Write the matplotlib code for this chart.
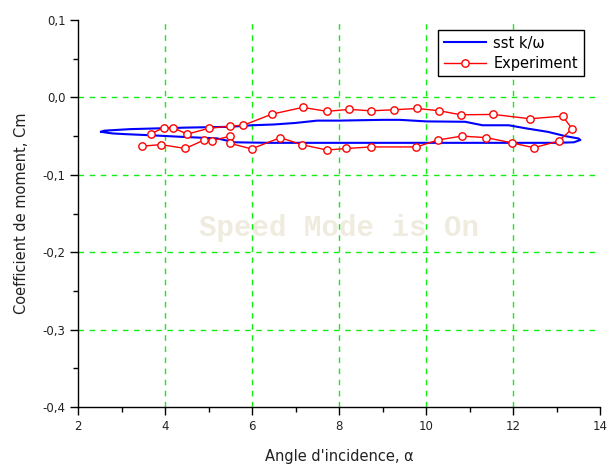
import matplotlib
matplotlib.use("Agg")
import matplotlib.pyplot as plt
from matplotlib.ticker import FixedLocator, FixedFormatter, MultipleLocator

# ---- data ----
sst_x = [2.53, 2.6, 3.2, 4.5, 5.5, 6.0, 6.5, 7.0, 7.5, 8.0, 9.0, 9.4, 10.0, 10.9, 11.3, 11.9,
         12.3, 12.8, 13.2, 13.5, 13.55, 13.4, 13.0, 12.0, 10.0, 8.0, 6.4, 5.6, 5.2, 4.4,
         3.7, 3.1, 2.8, 2.53]
sst_y = [-0.0445, -0.043, -0.041, -0.039, -0.038, -0.036, -0.035, -0.033, -0.030, -0.030,
         -0.029, -0.029, -0.031, -0.0315, -0.036, -0.036, -0.040, -0.0445, -0.050, -0.053,
         -0.055, -0.058, -0.0587, -0.0587, -0.0587, -0.0587, -0.0587, -0.058, -0.053, -0.051,
         -0.049, -0.0475, -0.0466, -0.0445]

exp_x = [3.47, 3.91, 4.47, 4.90, 5.08, 5.50, 5.50, 5.99, 6.65, 7.14, 7.72, 8.17, 8.74, 9.78,
         10.28, 10.82, 11.39, 11.97, 12.48, 13.05, 13.36,
         13.14, 12.39, 11.55, 10.80, 10.31, 9.80, 9.26, 8.73, 8.24, 7.72, 7.17, 6.46, 5.80,
         5.50, 5.00, 4.51, 4.18, 3.97, 3.68]
exp_y = [-0.063, -0.061, -0.066, -0.055, -0.056, -0.050, -0.0595, -0.0665, -0.052, -0.061,
         -0.068, -0.066, -0.064, -0.064, -0.055, -0.050, -0.052, -0.0587, -0.065, -0.0565,
         -0.0406,
         -0.0242, -0.0276, -0.022, -0.0225, -0.0173, -0.0143, -0.016, -0.0173, -0.0155,
         -0.018, -0.0129, -0.0216, -0.036, -0.037, -0.040, -0.0475, -0.039, -0.039, -0.047]

x_ticks = [2, 4, 6, 8, 10, 12, 14]
x_ticklabels = ["2", "4", "6", "8", "10", "12", "14"]
y_ticks = [0.1, 0.0, -0.1, -0.2, -0.3, -0.4]
y_ticklabels = ["0,1", "0,0", "-0,1", "-0,2", "-0,3", "-0,4"]

plt.rcParams['font.family'] = ['DejaVu Sans']

fig = plt.figure(figsize=(6.08, 4.68), dpi=100)
ax = fig.add_axes([78/608, 1-407/468, (600-78)/608, (407-20)/468])

ax.plot(sst_x, sst_y, color='#0000ff', lw=1.5, label='sst k/\u03c9', zorder=3)
ax.plot(exp_x, exp_y, color='#ff0000', lw=1.0, marker='o', markersize=5.3,
        markerfacecolor='white', markeredgecolor='#ff0000', markeredgewidth=1.0,
        label='Experiment', zorder=4)

ax.set_xlim(2, 14)
ax.set_ylim(-0.4, 0.1)
ax.xaxis.set_major_locator(FixedLocator(x_ticks))
ax.xaxis.set_major_formatter(FixedFormatter(x_ticklabels))
ax.yaxis.set_major_locator(FixedLocator(y_ticks))
ax.yaxis.set_major_formatter(FixedFormatter(y_ticklabels))
ax.xaxis.set_minor_locator(MultipleLocator(1))
ax.yaxis.set_minor_locator(MultipleLocator(0.05))
ax.tick_params(which='major', direction='out', length=6, width=1, labelsize=8.5, pad=3,
               labelcolor='#222222')
ax.tick_params(which='minor', direction='out', length=3.5, width=1)

for s in ['top', 'right']:
    ax.spines[s].set_visible(False)
for s in ['left', 'bottom']:
    ax.spines[s].set_linewidth(1.0)

# grid at interior ticks only
for xv in x_ticks[1:-1]:
    ax.axvline(xv, color='#11ee11', lw=1.0, ls=(0, (4, 4)), zorder=1)
for yv in y_ticks[1:-1]:
    ax.axhline(yv, color='#11ee11', lw=1.0, ls=(0, (4, 4)), zorder=1)

ax.text(0.5, 0.462, 'Speed Mode is On', transform=ax.transAxes, ha='center', va='center',
        family='Liberation Mono', fontweight='bold', fontsize=21, color='#efecdf', zorder=0)

ax.set_xlabel("Angle d'incidence, \u03b1", fontsize=10.5, labelpad=12, color='#222222')
ax.set_ylabel("Coefficient de moment, Cm", fontsize=10.5, labelpad=10, color='#222222')

leg = ax.legend(loc='upper right', bbox_to_anchor=(0.969, 0.975), fancybox=False,
                edgecolor='black', framealpha=1, fontsize=10.5, handlelength=2.9,
                handletextpad=0.5, borderaxespad=0, borderpad=0.4, labelspacing=0.35)
leg.get_frame().set_linewidth(1.0)

fig.savefig('out.png', dpi=100)
